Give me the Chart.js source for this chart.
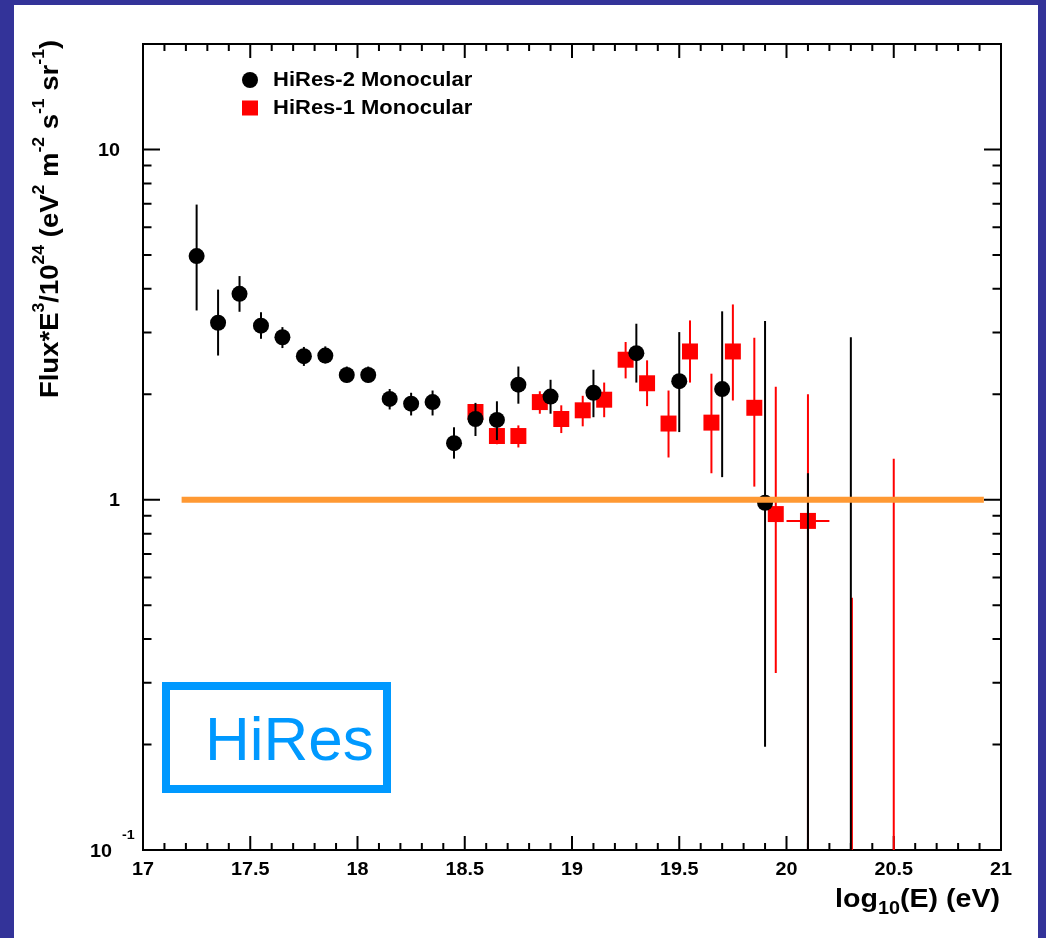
<!DOCTYPE html>
<html lang="en">
<head>
<meta charset="UTF-8" />
<title>HiRes monocular spectrum</title>
<style>
  html, body { margin: 0; padding: 0; background: #333399; }
  #wrap { width: 1046px; height: 938px; }
</style>
</head>
<body>
<div id="wrap"><canvas id="grafico" width="1046" height="938"></canvas></div>

<script src="https://cdn.jsdelivr.net/npm/chart.js"></script>
<script>
// eixos
const xMin = 17, xMax = 21;
const yMin = 0.1, yMax = 20;
const xTicks = [17, 17.5, 18, 18.5, 19, 19.5, 20, 20.5, 21];
const yTicks = [0.1, 1, 10];
const yTickLabels = ['10^-1', '1', '10'];

// HiRes-2 monocular (circulos pretos)
const hires2E    = [17.25, 17.35, 17.45, 17.55, 17.65, 17.75, 17.85, 17.95, 18.05, 18.15, 18.25, 18.35, 18.45, 18.55, 18.65, 18.75, 18.9, 19.1, 19.3, 19.5, 19.7, 19.9, 20.1, 20.3];
const hires2Flux = [4.96, 3.20, 3.87, 3.14, 2.91, 2.57, 2.58, 2.27, 2.27, 1.94, 1.88, 1.90, 1.45, 1.70, 1.69, 2.13, 1.97, 2.02, 2.62, 2.18, 2.07, 0.98, null, null];
const hires2Hi   = [6.96, 3.98, 4.35, 3.43, 3.11, 2.73, 2.74, 2.40, 2.40, 2.07, 2.02, 2.05, 1.61, 1.89, 1.91, 2.40, 2.20, 2.35, 3.18, 3.01, 3.45, 3.24, 1.19, 2.91];
const hires2Lo   = [3.47, 2.58, 3.44, 2.88, 2.71, 2.41, 2.45, 2.16, 2.16, 1.81, 1.74, 1.74, 1.31, 1.52, 1.48, 1.88, 1.76, 1.72, 2.16, 1.56, 1.16, 0.197, null, null];

// HiRes-1 monocular (quadrados vermelhos)
const hires1E    = [18.55, 18.65, 18.75, 18.85, 18.95, 19.05, 19.15, 19.25, 19.35, 19.45, 19.55, 19.65, 19.75, 19.85, 19.95, 20.1, 20.305, 20.5];
const hires1Flux = [1.78, 1.52, 1.52, 1.90, 1.70, 1.80, 1.93, 2.51, 2.15, 1.65, 2.65, 1.66, 2.65, 1.83, 0.91, 0.87, null, null];
const hires1Hi   = [1.87, 1.60, 1.63, 2.04, 1.86, 1.98, 2.16, 2.82, 2.50, 2.05, 3.25, 2.29, 3.61, 2.90, 2.10, 2.00, 0.525, 1.31];
const hires1Lo   = [1.70, 1.44, 1.41, 1.76, 1.55, 1.62, 1.72, 2.22, 1.85, 1.32, 2.16, 1.19, 1.92, 1.09, 0.320, null, null, null];
const hires1EErr = [0, 0, 0, 0, 0, 0, 0, 0, 0, 0, 0, 0, 0, 0, 0, 0.1, 0, 0];

// linha de referencia
const refE = [17.18, 20.92];
const refFlux = [1, 1];

const FONTE = '"Liberation Sans", Arial, Helvetica, sans-serif';
const ESTICA = 1.1; // texto do ROOT sai um pouco mais largo

function pontos(xs, ys) {
  return xs.map((x, i) => ({ x: x, y: ys[i] }));
}

// desenha texto com partes (sobrescrito / subscrito)
function textoRico(ctx, partes, x, y, align, peso) {
  let total = 0;
  partes.forEach(p => {
    ctx.font = (peso || 'bold') + ' ' + p.px + 'px ' + FONTE;
    p.w = ctx.measureText(p.t).width * ESTICA;
    total += p.w;
  });
  let cx = align === 'right' ? x - total : align === 'center' ? x - total / 2 : x;
  partes.forEach(p => {
    ctx.save();
    ctx.font = (peso || 'bold') + ' ' + p.px + 'px ' + FONTE;
    ctx.textAlign = 'left';
    ctx.textBaseline = 'alphabetic';
    ctx.translate(cx, y + (p.dy || 0));
    ctx.scale(ESTICA, 1);
    ctx.fillText(p.t, 0, 0);
    ctx.restore();
    cx += p.w;
  });
}

const fundo = {
  id: 'fundo',
  beforeDraw(chart) {
    const ctx = chart.ctx;
    ctx.save();
    ctx.fillStyle = '#333399';
    ctx.fillRect(0, 0, chart.width, chart.height);
    ctx.fillStyle = '#ffffff';
    ctx.fillRect(14, 5, 1024, 933);
    ctx.restore();
  }
};

// moldura estilo ROOT e ticks (antes dos dados, que ficam por cima)
const moldura = {
  id: 'moldura',
  beforeDatasetsDraw(chart) {
    const ctx = chart.ctx, a = chart.chartArea;
    const xs = chart.scales.x, ys = chart.scales.y;
    ctx.save();
    ctx.strokeStyle = '#000';
    ctx.lineWidth = 2;
    ctx.strokeRect(a.left, a.top, a.right - a.left, a.bottom - a.top);
    ctx.beginPath();
    // ticks x (a cada 0.1, maiores a cada 0.5)
    for (let i = 0; i <= Math.round((xMax - xMin) * 10); i++) {
      const px = xs.getPixelForValue(xMin + i / 10);
      const len = i % 5 === 0 ? 14 : 7;
      ctx.moveTo(px, a.bottom); ctx.lineTo(px, a.bottom - len);
      ctx.moveTo(px, a.top); ctx.lineTo(px, a.top + len);
    }
    // ticks y log
    yTicks.forEach(d => {
      for (let k = 1; k <= 9; k++) {
        const v = k * d;
        if (v < yMin || v >= yMax) continue;
        const py = ys.getPixelForValue(v);
        const len = k === 1 ? 17 : 8.5;
        ctx.moveTo(a.left, py); ctx.lineTo(a.left + len, py);
        ctx.moveTo(a.right, py); ctx.lineTo(a.right - len, py);
      }
    });
    ctx.stroke();
    ctx.restore();
  }
};

// barras de erro, desenhadas antes dos marcadores de cada serie
const barrasErro = {
  id: 'barrasErro',
  beforeDatasetDraw(chart, args) {
    const ds = chart.data.datasets[args.index];
    if (!ds.erroAlto) return;
    const ctx = chart.ctx, a = chart.chartArea;
    const xs = chart.scales.x, ys = chart.scales.y;
    ctx.save();
    ctx.beginPath();
    ctx.rect(a.left, a.top, a.right - a.left, a.bottom - a.top);
    ctx.clip();
    ctx.strokeStyle = ds.backgroundColor;
    ctx.lineWidth = 2;
    ds.energia.forEach((e, i) => {
      const px = xs.getPixelForValue(e);
      const topo = ys.getPixelForValue(ds.erroAlto[i]);
      const base = ds.erroBaixo[i] == null ? a.bottom + 5 : ys.getPixelForValue(ds.erroBaixo[i]);
      ctx.beginPath();
      ctx.moveTo(px, topo);
      ctx.lineTo(px, base);
      ctx.stroke();
      if (ds.erroE && ds.erroE[i] && ds.fluxo[i] != null) {
        const py = ys.getPixelForValue(ds.fluxo[i]);
        ctx.beginPath();
        ctx.moveTo(xs.getPixelForValue(e - ds.erroE[i]), py);
        ctx.lineTo(xs.getPixelForValue(e + ds.erroE[i]), py);
        ctx.stroke();
      }
    });
    ctx.restore();
  }
};

// rotulos, titulos, legenda e logo
const textos = {
  id: 'textos',
  afterDraw(chart) {
    const ctx = chart.ctx, a = chart.chartArea;
    const xs = chart.scales.x, ys = chart.scales.y;
    ctx.save();
    ctx.fillStyle = '#000';

    // rotulos x
    xTicks.forEach(v => {
      textoRico(ctx, [{ t: String(v), px: 18 }], xs.getPixelForValue(v), a.bottom + 25, 'center');
    });
    // rotulos y
    yTicks.forEach((v, i) => {
      const py = ys.getPixelForValue(v);
      const lab = yTickLabels[i];
      if (lab.indexOf('^') >= 0) {
        const [b, e] = lab.split('^');
        textoRico(ctx, [{ t: b, px: 18 }], a.left - 31, py + 7, 'right');
        textoRico(ctx, [{ t: e, px: 13 }], a.left - 21, py - 11, 'left');
      } else {
        textoRico(ctx, [{ t: lab, px: 18 }], a.left - 23, py + 6.5, 'right');
      }
    });

    // titulo x
    textoRico(ctx, [
      { t: 'log', px: 26 },
      { t: '10', px: 18, dy: 7 },
      { t: '(E) (eV)', px: 26 }
    ], a.right - 1, 907, 'right');

    // titulo y
    ctx.save();
    ctx.translate(58, 219);
    ctx.rotate(-Math.PI / 2);
    const sup = (t) => ({ t: t, px: 16, dy: -14 });
    textoRico(ctx, [
      { t: 'Flux*E', px: 25 }, sup('3'),
      { t: '/10', px: 25 }, sup('24'),
      { t: ' (eV', px: 25 }, sup('2'),
      { t: ' m', px: 25 }, sup('-2'),
      { t: ' s', px: 25 }, sup('-1'),
      { t: ' sr', px: 25 }, sup('-1'),
      { t: ')', px: 25 }
    ], 0, 0, 'center');
    ctx.restore();

    // legenda
    const ds = chart.data.datasets;
    const lx = a.left + 107;
    [0, 1].forEach((idx, row) => {
      const d = ds[idx];
      const ly = a.top + 36 + row * 28;
      ctx.fillStyle = d.backgroundColor;
      if (d.pointStyle === 'rect') {
        ctx.fillRect(lx - 8, ly - 7.5, 16, 15);
      } else {
        ctx.beginPath();
        ctx.arc(lx, ly, 8, 0, Math.PI * 2);
        ctx.fill();
      }
      ctx.fillStyle = '#000';
      textoRico(ctx, [{ t: d.label, px: 20 }], lx + 23, ly + 6, 'left');
    });

    // logo HiRes
    ctx.strokeStyle = '#0099ff';
    ctx.lineWidth = 8;
    ctx.strokeRect(166, 686, 221, 103);
    ctx.fillStyle = '#0099ff';
    ctx.font = '62px ' + FONTE;
    ctx.textAlign = 'left';
    ctx.textBaseline = 'alphabetic';
    ctx.fillText('HiRes', 205, 760);
    ctx.restore();
  }
};

new Chart(document.getElementById('grafico'), {
  type: 'scatter',
  data: {
    datasets: [
      {
        label: 'HiRes-2 Monocular',
        data: pontos(hires2E, hires2Flux),
        energia: hires2E, fluxo: hires2Flux, erroAlto: hires2Hi, erroBaixo: hires2Lo,
        backgroundColor: '#000000',
        pointStyle: 'circle',
        pointRadius: 8,
        pointBorderWidth: 0,
        order: 1
      },
      {
        label: 'HiRes-1 Monocular',
        data: pontos(hires1E, hires1Flux),
        energia: hires1E, fluxo: hires1Flux, erroAlto: hires1Hi, erroBaixo: hires1Lo, erroE: hires1EErr,
        backgroundColor: '#ff0000',
        pointStyle: 'rect',
        pointRadius: 11.3,
        pointBorderWidth: 0,
        order: 2
      },
      {
        label: 'ref',
        data: pontos(refE, refFlux),
        showLine: true,
        borderColor: '#ff9933',
        borderWidth: 6,
        borderCapStyle: 'butt',
        pointRadius: 0,
        order: 0
      }
    ]
  },
  options: {
    responsive: false,
    animation: false,
    devicePixelRatio: 1,
    events: [],
    layout: { padding: { left: 143, right: 45, top: 44, bottom: 88 } },
    scales: {
      x: { type: 'linear', min: xMin, max: xMax, display: false },
      y: { type: 'logarithmic', min: yMin, max: yMax, display: false }
    },
    plugins: {
      legend: { display: false },
      tooltip: { enabled: false }
    }
  },
  plugins: [fundo, moldura, barrasErro, textos]
});
</script>
</body>
</html>
